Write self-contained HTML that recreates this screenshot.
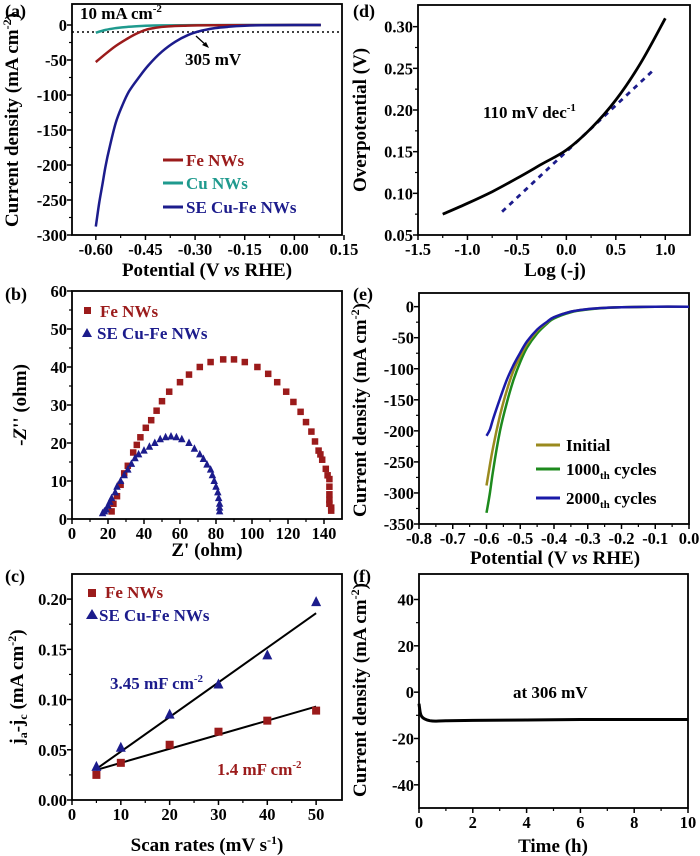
<!DOCTYPE html>
<html><head><meta charset="utf-8"><style>
html,body{margin:0;padding:0;background:#fff;}
svg{display:block;font-family:"Liberation Serif",serif;font-weight:bold;}
</style></head><body>
<svg id="fig" width="700" height="856" viewBox="0 0 700 856" xmlns="http://www.w3.org/2000/svg"></svg>
<script>
// ---- Panel (a) LSV data ----
const aFeV=[-0.60,-0.57,-0.54,-0.51,-0.48,-0.45,-0.42,-0.38,-0.33,-0.25,0,0.08];
const aFeJ=[-53,-41,-30,-21,-13,-7,-4,-2,-1,-0.4,0,0];
const aCuV=[-0.60,-0.57,-0.54,-0.50,-0.45,-0.40,-0.30,0.08];
const aCuJ=[-11,-7,-4.5,-2.5,-1.2,-0.6,-0.2,0];
const aSeV=[-0.60,-0.59,-0.58,-0.57,-0.56,-0.54,-0.52,-0.50,-0.47,-0.44,-0.40,-0.36,-0.32,-0.28,-0.24,-0.20,-0.15,-0.10,0,0.08];
const aSeJ=[-288,-255,-228,-200,-178,-140,-115,-95,-75,-57,-38,-24,-14,-8,-4.5,-2.5,-1,-0.4,0,0];
const aXTicks=[-0.60,-0.45,-0.30,-0.15,0.00,0.15];
const aXLabels=["-0.60","-0.45","-0.30","-0.15","0.00","0.15"];
const aYTicks=[0,-50,-100,-150,-200,-250,-300];
// ---- Panel (d) Tafel ----
const dX=[-1.25,-1.0,-0.75,-0.5,-0.25,0,0.25,0.5,0.75,1.0];
const dY=[0.075,0.088,0.102,0.118,0.135,0.152,0.178,0.212,0.256,0.31];
const dFitX=[-0.65,0.9];
const dFitY=[0.078,0.25];
const dXTicks=[-1.5,-1.0,-0.5,0.0,0.5,1.0];
const dYTicks=[0.05,0.10,0.15,0.20,0.25,0.30];
// ---- Panel (b) Nyquist ----
const bFeX=[22,23,25,27,29,31,34,36,38,41,44,47,50,54,60,65,71,77,84,90,96,103,109,114,119,123,127,130,133,135,137,138,139,141,142,143,143,143,143,143,144,144];
const bFeY=[2,4,6,9,12,14,17.5,19.5,21.5,24,26,28.5,31,33.5,36,38,40,41.3,42,42,41.3,40,38.2,36,33.5,30.8,28.2,25.5,23,20.4,18,17,15.6,13.2,11.5,10.5,8.5,6.5,5,4,3,2.2];
const bSeX=[17,18,19,20,21,22,24,25,27,29,31,33,35,37,40,43,46,49,52,55,58,61,65,68,71,73,75,77,78,79,80,81,81.5,82,82,82];
const bSeY=[1.5,2,2.5,3.5,4.5,5.5,7,8.5,10,11.5,13,14.5,16,17,18,19,20,21,21.5,21.7,21.5,21,20,18.5,17,15.8,14.3,13,11.5,10,8.5,7,5.5,4,3,2];
const bXTicks=[0,20,40,60,80,100,120,140];
const bYTicks=[0,10,20,30,40,50,60];
// ---- Panel (e) stability LSV ----
const eV=[-0.60,-0.59,-0.58,-0.56,-0.54,-0.52,-0.50,-0.48,-0.45,-0.42,-0.40,-0.35,-0.30,-0.25,-0.20,-0.10,0];
const eInit=[-288,-255,-225,-175,-135,-103,-80,-60,-39,-25,-17,-8,-4,-2,-1,0,0];
const e1000=[-332,-300,-262,-200,-155,-118,-89,-66,-43,-27,-19,-9,-4.5,-2.2,-1,-0.2,0];
const e2000=[-208,-198,-180,-148,-118,-94,-74,-56,-37,-24,-17,-8,-4,-2,-1,0,0];
const eXTicks=[-0.8,-0.7,-0.6,-0.5,-0.4,-0.3,-0.2,-0.1,0.0];
const eYTicks=[0,-50,-100,-150,-200,-250,-300,-350];
// ---- Panel (c) Cdl ----
const cRate=[5,10,20,30,40,50];
const cFe=[0.025,0.037,0.055,0.068,0.079,0.089];
const cSe=[0.033,0.052,0.085,0.115,0.144,0.197];
const cFeFit=[0.030,0.093];
const cSeFit=[0.031,0.186];
const cXTicks=[0,10,20,30,40,50];
const cYTicks=[0.00,0.05,0.10,0.15,0.20];
// ---- Panel (f) chronoamperometry ----
const fT=[0,0.05,0.1,0.2,0.4,0.6,1,2,4,6,8,10];
const fJ=[-5,-9,-10.5,-11.5,-12.3,-12.5,-12.3,-12.2,-12,-11.8,-11.8,-11.8];
const fXTicks=[0,2,4,6,8,10];
const fYTicks=[-40,-20,0,20,40];

const NS="http://www.w3.org/2000/svg";
const svg=document.getElementById('fig');
const TICK=16.5,TITLE=19,LEG=17;
function mk(tag,attrs,parent){const e=document.createElementNS(NS,tag);for(const k in attrs)e.setAttribute(k,attrs[k]);(parent||svg).appendChild(e);return e;}
function txt(s,x,y,size,anchor,fill,parent){const t=mk('text',{x:x,y:y,'font-size':size,'text-anchor':anchor||'start',fill:fill||'#000'},parent);t.textContent=s;return t;}

function panel(o){
  const g=mk('g',{});
  
  
  const sx=v=>o.L+(v-o.x0)/(o.x1-o.x0)*(o.R-o.L);
  const sy=v=>o.B-(v-o.y0)/(o.y1-o.y0)*(o.B-o.T);
  const ax=mk('g',{},g);
  
  
  o.xt.forEach((v,i)=>{const x=sx(v);mk('line',{x1:x,y1:o.B,x2:x,y2:o.B+5,stroke:'#000','stroke-width':1.5},ax);
    if(i<o.xt.length-1){const xm=sx((v+o.xt[i+1])/2);mk('line',{x1:xm,y1:o.B,x2:xm,y2:o.B+3,stroke:'#000','stroke-width':1.2},ax);}
    const t=txt(o.xl?o.xl[i]:String(v),x,o.B+20,TICK,'middle','#000',ax);
    
    });
  o.yt.forEach((v,i)=>{const y=sy(v);mk('line',{x1:o.L-5,y1:y,x2:o.L,y2:y,stroke:'#000','stroke-width':1.5},ax);
    if(i<o.yt.length-1){const ym=sy((v+o.yt[i+1])/2);mk('line',{x1:o.L-3,y1:ym,x2:o.L,y2:ym,stroke:'#000','stroke-width':1.2},ax);}
    const t=txt(o.yl?o.yl[i]:String(v),o.L-5,y+6,TICK,'end','#000',ax);
    
    });
  mk('rect',{x:o.L,y:o.T,width:o.R-o.L,height:o.B-o.T,fill:'none',stroke:'#000','stroke-width':1.8},ax);
  return {g,sx,sy};
}
function smoothPath(pts){
  if(pts.length<3)return pts.map((p,i)=>(i?'L':'M')+p[0].toFixed(1)+','+p[1].toFixed(1)).join('');
  let d='M'+pts[0][0].toFixed(1)+','+pts[0][1].toFixed(1);
  for(let i=0;i<pts.length-1;i++){
    const p0=pts[i-1]||pts[i],p1=pts[i],p2=pts[i+1],p3=pts[i+2]||p2;
    const c1=[p1[0]+(p2[0]-p0[0])/6,p1[1]+(p2[1]-p0[1])/6];
    const c2=[p2[0]-(p3[0]-p1[0])/6,p2[1]-(p3[1]-p1[1])/6];
    d+=`C${c1[0].toFixed(1)},${c1[1].toFixed(1)} ${c2[0].toFixed(1)},${c2[1].toFixed(1)} ${p2[0].toFixed(1)},${p2[1].toFixed(1)}`;
  }
  return d;
}
function line(p,xs,ys,color,w,name,dash){
  const d=smoothPath(xs.map((x,i)=>[p.sx(x),p.sy(ys[i])]));
  const e=mk('path',{d:d,fill:'none',stroke:color,'stroke-width':w,'stroke-linejoin':'round'},p.g);
  if(dash)e.setAttribute('stroke-dasharray',dash);
  
  
  return e;
}
function squares(p,xs,ys,color,s,name){
  const g=mk('g',{fill:color},p.g);
  
  
  xs.forEach((x,i)=>mk('rect',{x:p.sx(x)-s/2,y:p.sy(ys[i])-s/2,width:s,height:s},g));
}
function tris(p,xs,ys,color,s,name){
  const g=mk('g',{fill:color},p.g);
  
  
  xs.forEach((x,i)=>{const cx=p.sx(x),cy=p.sy(ys[i]);mk('polygon',{points:`${cx},${cy-s*0.6} ${cx-s/2},${cy+s*0.4} ${cx+s/2},${cy+s*0.4}`},g);});
}
function ytitle(x,y,html,name){
  const t=mk('text',{x:0,y:0,'font-size':TITLE,'text-anchor':'middle',transform:`translate(${x},${y}) rotate(-90)`});
  t.innerHTML=html;
}
function xtitle(x,y,html,name){
  const t=mk('text',{x:x,y:y,'font-size':TITLE,'text-anchor':'middle'});
  t.innerHTML=html;
}
function lab(s,x,y){const t=txt(s,x,y,18,'start');}
function rich(x,y,html,size,fill,name,anchor){const t=mk('text',{x:x,y:y,'font-size':size,fill:fill,'text-anchor':anchor||'start'});t.innerHTML=html;}

const RED='#9b1b1b',TEAL='#1f9a8e',NAVY='#1c1c8c';

// (a)
const pa=panel({name:'panel-a-lsv',L:72,R:342,T:4,B:235,x0:-0.672,x1:0.144,y0:-300,y1:30,xt:aXTicks,xl:aXLabels,yt:aYTicks});
mk('line',{x1:72,y1:pa.sy(-10),x2:342,y2:pa.sy(-10),stroke:'#000','stroke-width':1.5,'stroke-dasharray':'2,3'},pa.g);
line(pa,aCuV,aCuJ,TEAL,2.5,'cu-nws-curve');
line(pa,aFeV,aFeJ,RED,2.5,'fe-nws-curve');
line(pa,aSeV,aSeJ,NAVY,2.5,'se-cu-fe-nws-curve');
mk('line',{x1:196,y1:36,x2:207,y2:46,stroke:'#000','stroke-width':1.3},pa.g);
mk('polygon',{points:'209,48 202,45 206,42',fill:'#000'},pa.g);
rich(185,65,'305 mV',LEG,'#000','annotation-305mv');
rich(80,19,'10 mA cm<tspan font-size="11" dy="-7">-2</tspan>',LEG,'#000','annotation-10ma');
[['Fe NWs',RED,166],['Cu NWs',TEAL,189],['SE Cu-Fe NWs',NAVY,213]].forEach(([s,c,y])=>{
  const l=mk('line',{x1:163,y1:y-6,x2:183,y2:y-6,stroke:c,'stroke-width':3});
  const t=txt(s,186,y,LEG,'start',c);});
lab('(a)',5,17);
ytitle(18,120,'Current density (mA cm<tspan font-size="12" dy="-7">-2</tspan><tspan dy="7">)</tspan>','y-axis-title-a');
xtitle(207,276,'Potential (V <tspan font-style="italic">vs</tspan> RHE)','x-axis-title-a');

// (d)
const pd=panel({name:'panel-d-tafel',L:418,R:690,T:5,B:235,x0:-1.5,x1:1.25,y0:0.05,y1:0.326,xt:dXTicks,xl:["-1.5","-1.0","-0.5","0.0","0.5","1.0"],yt:dYTicks,yl:["0.05","0.10","0.15","0.20","0.25","0.30"]});
line(pd,dFitX,dFitY,NAVY,2.8,'tafel-fit-line','5,5');
line(pd,dX,dY,'#000',2.8,'tafel-curve');
rich(483,118,'110 mV dec<tspan font-size="11" dy="-7">-1</tspan>',LEG,'#000','tafel-slope-label');
lab('(d)',353,17);
ytitle(366,120,'Overpotential (V)','y-axis-title-d');
xtitle(555,276,'Log (-j)','x-axis-title-d');

// (b)
const pb=panel({name:'panel-b-nyquist',L:72,R:342,T:291,B:519,x0:0,x1:150,y0:0,y1:60,xt:bXTicks,yt:bYTicks});
squares(pb,bFeX,bFeY,RED,6.5,'fe-nws-points');
tris(pb,bSeX,bSeY,NAVY,7.5,'se-cu-fe-nws-points');
mk('rect',{x:84,y:307,width:7,height:7,fill:RED});
rich(100,317,'Fe NWs',LEG,RED,'legend-entry');
mk('polygon',{points:'87,328 82,337 92,337',fill:NAVY});
rich(97,339,'SE Cu-Fe NWs',LEG,NAVY,'legend-entry');
lab('(b)',5,300);
ytitle(26,405,'-<tspan font-style="italic">Z</tspan>\'\' (ohm)','y-axis-title-b');
xtitle(207,556,'Z\' (ohm)','x-axis-title-b');

// (e)
const pe=panel({name:'panel-e-stability-lsv',L:419,R:689,T:293,B:524,x0:-0.8,x1:0,y0:-350,y1:22,xt:eXTicks,xl:["-0.8","-0.7","-0.6","-0.5","-0.4","-0.3","-0.2","-0.1","0.0"],yt:eYTicks});
line(pe,eV,e1000,'#1d8a1d',2.5,'cycles-1000-curve');
line(pe,eV,eInit,'#9a8a1e',2.5,'initial-curve');
line(pe,eV,e2000,'#1a1aa8',2.5,'cycles-2000-curve');
[['Initial','#9a8a1e',451,''],['1000','#1d8a1d',475,'th'],['2000','#1a1aa8',504,'th']].forEach(([s,c,y,sub])=>{
  const l=mk('line',{x1:536,y1:y-6,x2:560,y2:y-6,stroke:c,'stroke-width':3});
  rich(566,y,sub?s+'<tspan font-size="11" dy="4">th</tspan><tspan dy="-4"> cycles</tspan>':s,LEG,'#000','legend-entry');});
lab('(e)',353,300);
ytitle(366,410,'Current density (mA cm<tspan font-size="12" dy="-7">-2</tspan><tspan dy="7">)</tspan>','y-axis-title-e');
xtitle(555,564,'Potential (V <tspan font-style="italic">vs</tspan> RHE)','x-axis-title-e');

// (c)
const pc=panel({name:'panel-c-cdl',L:72,R:342,T:574,B:800,x0:0,x1:55.3,y0:0,y1:0.225,xt:cXTicks,yt:cYTicks,yl:["0.00","0.05","0.10","0.15","0.20"]});
line(pc,[cRate[0],cRate[cRate.length-1]],cFeFit,'#000',2,'fe-fit-line');
line(pc,[cRate[0],cRate[cRate.length-1]],cSeFit,'#000',2,'se-fit-line');
squares(pc,cRate,cFe,RED,8,'fe-nws-points');
tris(pc,cRate,cSe,NAVY,10,'se-cu-fe-nws-points');
mk('rect',{x:88,y:589,width:8,height:8,fill:RED});
rich(105,598,'Fe NWs',LEG,RED,'legend-entry');
mk('polygon',{points:'92,609 86,619 98,619',fill:NAVY});
rich(99,621,'SE Cu-Fe NWs',LEG,NAVY,'legend-entry');
rich(110,689,'3.45 mF cm<tspan font-size="11" dy="-7">-2</tspan>',LEG,NAVY,'se-cdl-label');
rich(217,775,'1.4 mF cm<tspan font-size="11" dy="-7">-2</tspan>',LEG,RED,'fe-cdl-label');
lab('(c)',5,582);
ytitle(23,687,'j<tspan font-size="12" dy="4">a</tspan><tspan dy="-4">-j</tspan><tspan font-size="12" dy="4">c</tspan><tspan dy="-4"> (mA cm</tspan><tspan font-size="12" dy="-7">-2</tspan><tspan dy="7">)</tspan>','y-axis-title-c');
xtitle(207,851,'Scan rates (mV s<tspan font-size="12" dy="-7">-1</tspan><tspan dy="7">)</tspan>','x-axis-title-c');

// (f)
const pf=panel({name:'panel-f-chronoamperometry',L:419,R:688,T:574,B:808,x0:0,x1:10,y0:-50,y1:51,xt:fXTicks,yt:fYTicks});
line(pf,fT,fJ,'#000',3,'current-time-curve');
rich(513,698,'at 306 mV',LEG,'#000','potential-label');
lab('(f)',353,582);
ytitle(366,690,'Current density (mA cm<tspan font-size="12" dy="-7">-2</tspan><tspan dy="7">)</tspan>','y-axis-title-f');
xtitle(553,852,'Time (h)','x-axis-title-f');
</script>
</body></html>
